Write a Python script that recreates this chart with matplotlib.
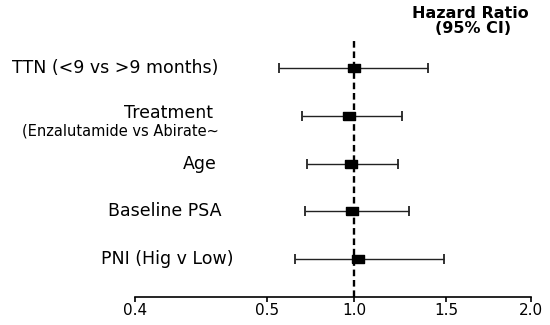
import matplotlib
matplotlib.use('Agg')
import matplotlib.pyplot as plt
import numpy as np

plt.rcParams['font.family'] = ['DejaVu Sans']
plt.rcParams['font.size'] = 12

# data
labels = ['TTN (<9 vs >9 months)', 'Treatment', 'Age', 'Baseline PSA', 'PNI (Hig v Low)']
hr = [1.00, 0.97, 0.98, 0.99, 1.02]
ci_low = [0.57, 0.70, 0.73, 0.72, 0.66]
ci_high = [1.40, 1.26, 1.24, 1.30, 1.49]
tick_vals = [0.4, 0.5, 1.0, 1.5, 2.0]
tick_labels = ['0.4', '0.5', '1.0', '1.5', '2.0']

# uneven axis as drawn in the original (pixel spacing of the ticks)
tick_pix = [0.0, 132.0, 219.3, 311.3, 396.3]


def fwd(v):
    return np.interp(v, tick_vals, tick_pix)


def inv(p):
    return np.interp(p, tick_pix, tick_vals)


fig = plt.figure(figsize=(5.5, 3.25), dpi=100)
ax = fig.add_axes([0.2449, 0.0852, 0.7206, 0.7925])
ax.set_xscale('function', functions=(fwd, inv))
ax.set_xlim(0.4, 2.0)

y = np.arange(len(labels))
ax.set_ylim(4.8, -0.6)

# reference line at HR = 1
ax.axvline(1.0, color='black', lw=1.7, dashes=(2.8, 1.6), zorder=1)

# confidence intervals + point estimates
err = [np.array(hr) - np.array(ci_low), np.array(ci_high) - np.array(hr)]
ax.errorbar(hr, y, xerr=err, fmt='none', ecolor='#222222', elinewidth=1.0,
            capsize=3.5, capthick=1.3, zorder=2)
rect = [(-1, -0.72), (1, -0.72), (1, 0.72), (-1, 0.72), (-1, -0.72)]
ax.plot(hr, y, linestyle='none', marker=rect, markersize=8.5, color='black', zorder=3)

# axes cosmetics
for s in ['left', 'right', 'top']:
    ax.spines[s].set_visible(False)
ax.spines['bottom'].set_linewidth(1.2)
ax.set_yticks([])
ax.set_xticks(tick_vals)
ax.set_xticklabels(tick_labels, fontsize=11)
ax.xaxis.set_minor_locator(matplotlib.ticker.NullLocator())
ax.tick_params(axis='x', direction='out', length=3.5, width=1.2, pad=0.5)

# row labels (centres in figure pixels)
lab_x = [115, 168, 200, 165, 167]
for i, lab in enumerate(labels):
    dy = 2 if lab == 'Treatment' else 0
    ax.annotate(lab, xy=(lab_x[i] / 550, y[i]), xycoords=('figure fraction', 'data'),
                xytext=(0, dy), textcoords='offset points', ha='center', va='center',
                fontsize=12.5)
ax.annotate('(Enzalutamide vs Abirate~', xy=(120 / 550, y[1]),
            xycoords=('figure fraction', 'data'), xytext=(0, -11),
            textcoords='offset points', ha='center', va='center', fontsize=10.5)

# header
fig.text(470 / 550, 1 - 13 / 325, 'Hazard Ratio', ha='center', va='center',
         fontsize=11.5, fontweight='bold')
fig.text(473 / 550, 1 - 28.5 / 325, '(95% CI)', ha='center', va='center',
         fontsize=11.5, fontweight='bold')

plt.savefig('out.png', dpi=100)
